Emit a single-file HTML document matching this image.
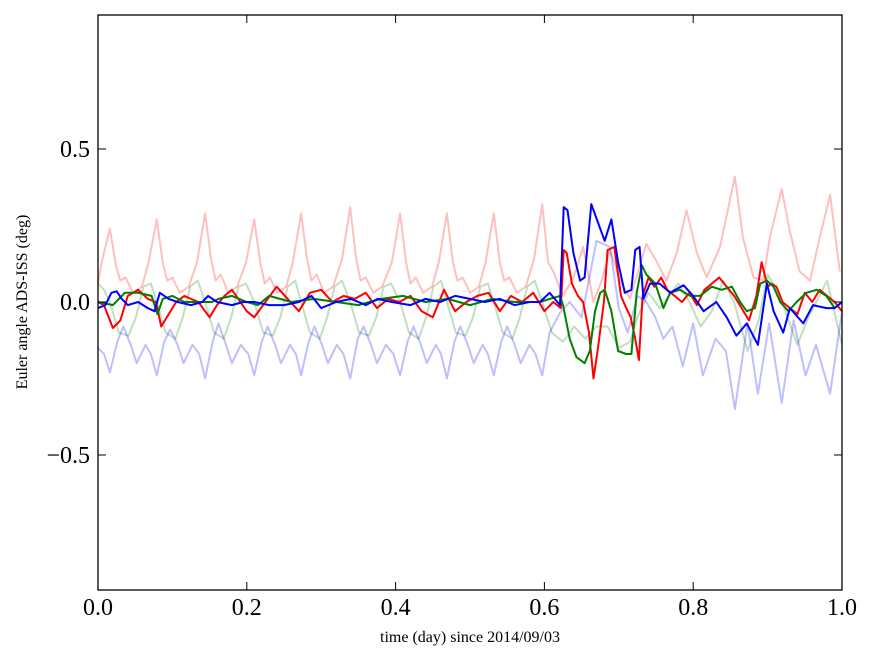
<!DOCTYPE html>
<html><head><meta charset="utf-8"><style>
body{margin:0;background:#fff;}
svg text{font-family:"Liberation Serif",serif;}
</style></head><body>
<svg id="chart" width="875" height="662" xmlns="http://www.w3.org/2000/svg">
<rect x="0" y="0" width="875" height="662" fill="#fff"/>
<g id="series"></g>
<rect x="98" y="15" width="744" height="575" fill="none" stroke="#000" stroke-width="1.3"/>
<g id="ticks"></g>
<text x="470" y="642" font-size="16" text-anchor="middle">time (day) since 2014/09/03</text>
<text x="0" y="0" font-size="16" text-anchor="middle" transform="translate(27,302) rotate(-90)">Euler angle ADS-ISS (deg)</text>
</svg>
<script>
const xTicks=[0,0.2,0.4,0.6,0.8,1.0];
const xTickLabels=["0.0","0.2","0.4","0.6","0.8","1.0"];
const yTicks=[0.5,0,-0.5];
const yTickLabels=["0.5","0.0","\u22120.5"];

const lightRedDays=[0,0.005,0.016,0.024,0.03,0.037,0.047,0.059,0.068,0.079,0.087,0.093,0.1,0.11,0.122,0.133,0.144,0.152,0.158,0.165,0.175,0.187,0.199,0.21,0.218,0.224,0.231,0.241,0.253,0.262,0.273,0.281,0.287,0.294,0.304,0.316,0.328,0.339,0.347,0.353,0.36,0.37,0.382,0.395,0.406,0.414,0.42,0.427,0.437,0.449,0.458,0.469,0.477,0.483,0.49,0.5,0.512,0.521,0.532,0.54,0.546,0.553,0.563,0.575,0.586,0.597,0.605,0.612,0.625,0.639,0.652,0.666,0.677,0.688,0.702,0.715,0.737,0.749,0.764,0.778,0.791,0.805,0.818,0.836,0.856,0.867,0.881,0.894,0.903,0.919,0.93,0.943,0.957,0.97,0.984,0.997];
const lightRedVals=[0.06,0.13,0.24,0.12,0.07,0.08,0.03,0.05,0.13,0.27,0.13,0.07,0.08,0.03,0.05,0.13,0.29,0.14,0.07,0.09,0.03,0.05,0.13,0.27,0.13,0.06,0.08,0.03,0.05,0.13,0.29,0.14,0.07,0.09,0.03,0.05,0.14,0.31,0.14,0.07,0.08,0.03,0.05,0.13,0.29,0.13,0.06,0.08,0.03,0.05,0.13,0.29,0.13,0.07,0.08,0.03,0.05,0.13,0.29,0.13,0.07,0.08,0.03,0.05,0.14,0.32,0.13,0.1,0.02,0.08,0.18,0.0,0.07,0.17,0.07,0.01,0.19,0.14,0.07,0.16,0.3,0.16,0.08,0.18,0.41,0.21,0.08,0.07,0.21,0.37,0.23,0.1,0.07,0.21,0.35,0.1];

const lightGreenDays=[0,0.008,0.016,0.028,0.041,0.051,0.061,0.071,0.079,0.091,0.104,0.114,0.124,0.134,0.144,0.156,0.169,0.179,0.189,0.199,0.21,0.222,0.235,0.245,0.255,0.265,0.273,0.285,0.298,0.308,0.318,0.328,0.339,0.351,0.364,0.374,0.384,0.394,0.406,0.418,0.431,0.441,0.451,0.461,0.469,0.481,0.494,0.504,0.514,0.524,0.532,0.544,0.557,0.567,0.577,0.587,0.597,0.61,0.625,0.64,0.655,0.67,0.685,0.7,0.715,0.725,0.74,0.755,0.78,0.795,0.81,0.825,0.84,0.855,0.873,0.888,0.9,0.915,0.94,0.955,0.98,1.0];
const lightGreenVals=[0.06,0.04,0.0,-0.1,-0.11,-0.05,0.05,0.06,0.0,-0.1,-0.12,-0.05,0.05,0.07,0.0,-0.1,-0.12,-0.05,0.05,0.06,0.0,-0.1,-0.11,-0.05,0.05,0.07,0.0,-0.1,-0.12,-0.05,0.05,0.07,0.0,-0.1,-0.11,-0.05,0.05,0.06,0.0,-0.1,-0.12,-0.05,0.05,0.07,0.0,-0.1,-0.11,-0.05,0.05,0.06,0.0,-0.1,-0.12,-0.05,0.05,0.07,0.0,-0.1,-0.13,-0.08,-0.12,-0.08,-0.08,-0.15,-0.13,-0.05,0.03,-0.02,0.06,0.0,-0.08,-0.03,0.07,0.0,-0.16,-0.06,0.09,0.03,-0.14,-0.05,0.07,-0.14];

const lightBlueDays=[0,0.008,0.016,0.026,0.034,0.044,0.052,0.064,0.071,0.079,0.089,0.097,0.107,0.115,0.127,0.136,0.144,0.154,0.162,0.172,0.18,0.192,0.202,0.21,0.22,0.228,0.238,0.246,0.258,0.266,0.273,0.283,0.291,0.301,0.309,0.321,0.33,0.339,0.349,0.357,0.367,0.375,0.387,0.397,0.406,0.416,0.424,0.434,0.442,0.454,0.461,0.469,0.479,0.487,0.497,0.505,0.517,0.524,0.532,0.542,0.55,0.56,0.568,0.58,0.588,0.597,0.607,0.621,0.634,0.65,0.67,0.688,0.7,0.712,0.725,0.737,0.749,0.76,0.772,0.786,0.8,0.813,0.83,0.844,0.856,0.873,0.887,0.902,0.919,0.935,0.951,0.965,0.984,1.0];
const lightBlueVals=[-0.15,-0.17,-0.23,-0.13,-0.08,-0.14,-0.2,-0.14,-0.17,-0.24,-0.13,-0.09,-0.14,-0.2,-0.14,-0.17,-0.25,-0.13,-0.07,-0.14,-0.2,-0.14,-0.17,-0.24,-0.13,-0.08,-0.14,-0.2,-0.14,-0.17,-0.24,-0.13,-0.08,-0.14,-0.2,-0.14,-0.17,-0.25,-0.12,-0.08,-0.14,-0.2,-0.14,-0.17,-0.24,-0.13,-0.08,-0.14,-0.2,-0.14,-0.17,-0.25,-0.13,-0.08,-0.14,-0.2,-0.14,-0.17,-0.24,-0.13,-0.08,-0.14,-0.2,-0.14,-0.17,-0.24,-0.1,-0.035,0.0,-0.05,0.2,0.18,-0.02,-0.1,0.02,0.0,-0.05,-0.12,-0.08,-0.21,-0.07,-0.24,-0.12,-0.16,-0.35,-0.07,-0.3,-0.07,-0.33,-0.06,-0.24,-0.14,-0.3,-0.03];

const redDays=[0,0.008,0.02,0.03,0.04,0.054,0.067,0.078,0.085,0.095,0.105,0.116,0.135,0.15,0.16,0.17,0.18,0.2,0.21,0.225,0.24,0.255,0.27,0.285,0.3,0.315,0.33,0.345,0.36,0.375,0.39,0.405,0.42,0.435,0.45,0.465,0.48,0.495,0.51,0.525,0.54,0.555,0.57,0.585,0.6,0.612,0.622,0.626,0.63,0.637,0.645,0.652,0.66,0.666,0.672,0.68,0.685,0.694,0.703,0.71,0.716,0.722,0.727,0.732,0.74,0.748,0.757,0.765,0.775,0.785,0.795,0.805,0.815,0.825,0.835,0.845,0.855,0.865,0.875,0.885,0.892,0.9,0.905,0.912,0.92,0.93,0.94,0.95,0.96,0.97,0.98,0.99,1.0];
const redVals=[0.0,-0.01,-0.085,-0.06,0.02,0.04,0.01,0.0,-0.08,-0.04,0.0,0.02,0.0,-0.05,-0.01,0.02,0.04,-0.03,-0.05,0.0,0.05,0.01,-0.03,0.03,0.04,0.0,0.02,0.01,0.03,-0.02,0.01,0.0,0.02,-0.03,-0.05,0.04,-0.03,0.0,0.02,0.03,-0.03,0.02,0.0,0.03,-0.03,0.0,-0.02,0.17,0.16,0.06,0.02,0.0,-0.1,-0.25,-0.15,0.0,0.17,0.18,0.02,-0.02,-0.05,-0.12,-0.19,0.02,0.08,0.05,0.08,0.04,0.02,0.0,0.03,-0.01,0.04,0.06,0.08,0.05,0.02,-0.02,-0.06,0.02,0.13,0.05,0.06,0.05,0.0,-0.02,-0.04,0.03,0.0,0.04,0.02,0.0,-0.03,0.0];

const greenDays=[0,0.02,0.036,0.054,0.072,0.08,0.087,0.1,0.116,0.135,0.153,0.162,0.18,0.2,0.215,0.23,0.26,0.29,0.32,0.35,0.38,0.41,0.44,0.47,0.5,0.53,0.56,0.594,0.607,0.621,0.625,0.634,0.643,0.654,0.661,0.668,0.675,0.681,0.69,0.699,0.71,0.717,0.724,0.731,0.737,0.749,0.76,0.769,0.782,0.796,0.809,0.825,0.838,0.852,0.863,0.872,0.883,0.89,0.899,0.908,0.917,0.928,0.939,0.952,0.966,0.979,0.99,1.0];
const greenVals=[0.0,-0.01,0.03,0.03,0.02,-0.04,0.01,0.02,0.0,0.0,0.0,0.01,0.02,0.0,-0.01,0.02,0.0,0.01,0.0,-0.01,0.01,0.02,0.0,0.01,-0.01,0.01,0.0,0.0,0.01,0.02,-0.01,-0.12,-0.18,-0.2,-0.16,-0.03,0.03,0.04,-0.03,-0.16,-0.17,-0.17,0.03,0.12,0.09,0.06,-0.02,0.03,0.04,0.02,0.02,0.05,0.04,0.05,0.0,-0.03,-0.02,0.06,0.07,0.05,0.0,-0.03,0.0,0.03,0.04,0.02,-0.02,0.0];

const blueDays=[0,0.01,0.018,0.025,0.032,0.04,0.054,0.067,0.076,0.083,0.095,0.107,0.125,0.14,0.148,0.16,0.18,0.195,0.21,0.23,0.25,0.27,0.287,0.3,0.32,0.34,0.36,0.376,0.395,0.42,0.44,0.46,0.48,0.5,0.52,0.54,0.56,0.58,0.594,0.607,0.621,0.626,0.631,0.639,0.648,0.654,0.663,0.675,0.681,0.69,0.699,0.708,0.717,0.722,0.728,0.733,0.742,0.755,0.769,0.787,0.8,0.814,0.831,0.845,0.858,0.872,0.887,0.899,0.908,0.921,0.93,0.948,0.961,0.979,0.99,1.0];
const blueVals=[-0.02,-0.01,0.03,0.035,0.01,-0.01,0.0,-0.02,-0.03,0.03,0.01,0.0,-0.01,0.0,0.02,0.0,-0.01,0.0,0.0,-0.01,-0.01,0.0,0.02,-0.02,0.0,0.01,-0.01,0.01,0.0,-0.01,0.01,0.0,0.02,0.01,0.0,0.01,-0.01,0.0,0.0,0.03,-0.01,0.31,0.3,0.16,0.07,0.08,0.32,0.24,0.2,0.27,0.13,0.03,0.04,0.17,0.18,0.01,0.06,0.06,0.03,0.055,0.02,-0.03,0.0,-0.05,-0.11,-0.07,-0.14,0.06,-0.03,-0.1,-0.02,-0.07,-0.01,-0.02,-0.02,0.0];

const NS="http://www.w3.org/2000/svg";
function xScale(d){return 98+d*744;}
function yScale(v){return 302-v*306;}
function drawLine(days,vals,color,opacity,name){
  const n=Math.min(days.length,vals.length);
  let d="";
  for(let i=0;i<n;i++){d+=(i?"L":"M")+xScale(days[i]).toFixed(1)+" "+yScale(vals[i]).toFixed(1);}
  const p=document.createElementNS(NS,"path");
  p.setAttribute("d",d);p.setAttribute("fill","none");p.setAttribute("stroke",color);
  p.setAttribute("stroke-width","2");p.setAttribute("stroke-opacity",opacity);p.setAttribute("stroke-linejoin","round");
  
  
  document.getElementById("series").appendChild(p);
}
drawLine(lightRedDays,lightRedVals,"#ff0000",0.25,"light-red-series");
drawLine(lightGreenDays,lightGreenVals,"#008000",0.25,"light-green-series");
drawLine(lightBlueDays,lightBlueVals,"#0000ff",0.25,"light-blue-series");
drawLine(redDays,redVals,"#ff0000",1,"red-series");
drawLine(greenDays,greenVals,"#008000",1,"green-series");
drawLine(blueDays,blueVals,"#0000ff",1,"blue-series");

const tg=document.getElementById("ticks");
function mk(tag,attrs){const e=document.createElementNS(NS,tag);for(const k in attrs)e.setAttribute(k,attrs[k]);tg.appendChild(e);return e;}
xTicks.forEach((t,i)=>{
  const x=xScale(t);
  const a=mk("line",{x1:x,x2:x,y1:590,y2:582,stroke:"#000","stroke-width":1});
  
  
  const b=mk("line",{x1:x,x2:x,y1:15,y2:23,stroke:"#000","stroke-width":1});
  
  
  const l=mk("text",{x:x,y:615,"font-size":24,"text-anchor":"middle"});
  l.textContent=xTickLabels[i];
  
  
});
yTicks.forEach((t,i)=>{
  const y=yScale(t);
  const a=mk("line",{x1:98,x2:106,y1:y,y2:y,stroke:"#000","stroke-width":1});
  
  
  const b=mk("line",{x1:834,x2:842,y1:y,y2:y,stroke:"#000","stroke-width":1});
  
  
  const l=mk("text",{x:90,y:y+8,"font-size":24,"text-anchor":"end"});
  l.textContent=yTickLabels[i];
  
  
});
</script>
</body></html>
